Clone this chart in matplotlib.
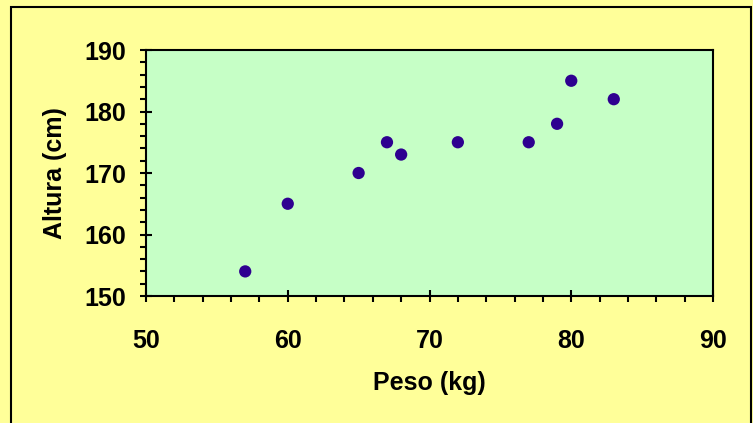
import matplotlib
matplotlib.use("Agg")
import matplotlib.pyplot as plt
from matplotlib.patches import Rectangle
from matplotlib.ticker import MultipleLocator

peso = [57, 60, 65, 67, 68, 72, 77, 79, 80, 83]
altura = [154, 165, 170, 175, 173, 175, 175, 178, 185, 182]
x_ticks = [50, 60, 70, 80, 90]
y_ticks = [150, 160, 170, 180, 190]

plt.rcParams['font.family'] = ['Liberation Sans', 'DejaVu Sans']
plt.rcParams['font.weight'] = 'bold'

fig = plt.figure(figsize=(7.53, 4.23), dpi=100)
fig.patch.set_facecolor('#FFFF99')
ax = fig.add_axes([146/753, 1 - 296/423, 567/753, 246/423])
ax.set_facecolor('#C6FFC6')

ax.scatter(peso, altura, s=78, color='#2E0090', zorder=3, edgecolors='none')

ax.set_xlim(50, 90)
ax.set_ylim(150, 190)
ax.set_xticks(x_ticks)
ax.set_yticks(y_ticks)
ax.xaxis.set_minor_locator(MultipleLocator(2))
ax.yaxis.set_minor_locator(MultipleLocator(2))

for s in ax.spines.values():
    s.set_linewidth(1.5)
    s.set_color('black')

ax.tick_params(axis='both', which='major', direction='inout', length=8, width=1.5,
               labelsize=18)
ax.tick_params(axis='both', which='minor', direction='out', length=4, width=1.5)
ax.tick_params(axis='x', which='major', pad=20)
ax.tick_params(axis='y', which='major', pad=10)
for lab in ax.get_xticklabels() + ax.get_yticklabels():
    lab.set_fontweight('bold')

ax.set_xlabel('Peso (kg)', fontsize=18, fontweight='bold')
ax.xaxis.label.set_va('center')
ax.xaxis.set_label_coords(0.5, (296 - 383) / 246)
ax.set_ylabel('Altura (cm)', fontsize=18, fontweight='bold')
ax.yaxis.label.set_va('center')
ax.yaxis.set_label_coords((55 - 146) / 567, 0.5)

border = Rectangle((11/753, -10/423), (751-11)/753, (423 - 7 + 10)/423,
                   transform=fig.transFigure, fill=False, edgecolor='black',
                   linewidth=1.5, clip_on=False)
fig.patches.append(border)

fig.savefig('out.png', dpi=100, facecolor=fig.get_facecolor())
